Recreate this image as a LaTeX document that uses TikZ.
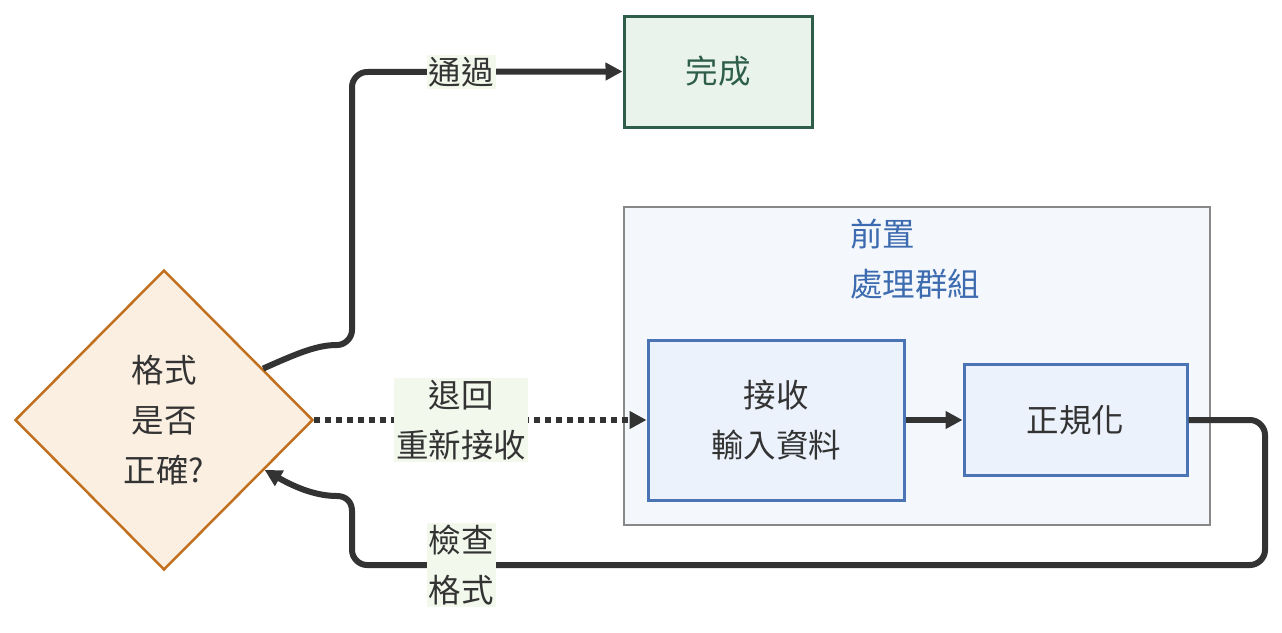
\documentclass[tikz,border=0pt]{standalone}
\usepackage{fontspec}
\setmainfont{Noto Sans CJK TC}
\usetikzlibrary{arrows.meta,calc,shapes.geometric}
\definecolor{inkgray}{HTML}{333333}
\definecolor{decfill}{HTML}{FBEFE2}
\definecolor{decline}{HTML}{C0701E}
\definecolor{donefill}{HTML}{E9F3EC}
\definecolor{doneline}{HTML}{2E5E4A}
\definecolor{grpfill}{HTML}{F4F7FC}
\definecolor{grpline}{HTML}{888888}
\definecolor{grptext}{HTML}{3D6BB0}
\definecolor{stepfill}{HTML}{EBF2FB}
\definecolor{stepline}{HTML}{4A74B4}
\definecolor{lblfill}{HTML}{F2F8EC}
\tikzset{
  flowbox/.style={draw=stepline, fill=stepfill, line width=3pt, text=inkgray, align=center, inner sep=0pt},
  edge/.style={draw=inkgray, line width=6pt, -{Triangle[length=17pt,width=17pt]}},
  edgelbl/.style={fill=lblfill, text=inkgray, align=center, inner sep=2pt}
}
\begin{document}
\begin{tikzpicture}[x=1pt, y=-1pt, font=\fontsize{32.5}{50}\selectfont]
		%%%%% frame %%%%%
		\useasboundingbox (0,0) rectangle (1282,632);

		% group box
		\node[draw=grpline, fill=grpfill, line width=2.5pt, minimum width=586pt, minimum height=318pt, inner sep=0pt] (grp) at (917,366) {};
		\node[text=grptext, align=left, anchor=west, inner sep=0pt] (grplbl) at (850,259) {前置\\處理群組};

		% nodes
		\node[draw=decline, fill=decfill, line width=2.5pt, diamond, minimum width=298pt, minimum height=300pt, inner sep=0pt, text=inkgray, align=center] (check) at (164,420) {格式\\是否\\正確?};
		\node[draw=doneline, fill=donefill, line width=3pt, minimum width=188pt, minimum height=111pt, text=doneline, inner sep=0pt] (done) at (718,71.5) {完成};
		\node[flowbox, minimum width=256pt, minimum height=160pt] (recv) at (776,420) {接收\\輸入資料};
		\node[flowbox, minimum width=223pt, minimum height=111pt] (norm) at (1075.5,420) {正規化};

		% edges
		\coordinate (passout) at ($(check.north)!0.66!(check.east)$);
		\coordinate (backin) at ($(check.east)!0.33!(check.south)$);
		\draw[edge] (passout) .. controls (300,352) and (318,345) .. (337,345)
		  .. controls (345,345) and (352,338) .. (352,330) -- (352,87)
		  .. controls (352,79) and (359,72) .. (367,72) -- (done.west);
		\node[edgelbl] (passlbl) at (461,72) {通過};

		\draw[edge, dash pattern=on 6pt off 5pt] (check.east) -- (recv.west);
		\node[edgelbl] (retlbl) at (461,420) {退回\\重新接收};

		\draw[edge] (recv.east) -- (norm.west);

		\draw[edge] (norm.east) -- (1250,420) .. controls (1258,420) and (1265,427) .. (1265,435)
		  -- (1265,550) .. controls (1265,558) and (1258,565) .. (1250,565)
		  -- (367,565) .. controls (359,565) and (352,558) .. (352,550)
		  -- (352,511) .. controls (352,502) and (346,496) .. (337,496)
		  .. controls (318,496) and (298,489) .. (backin);
		\node[edgelbl] (chklbl) at (461,565) {檢查\\格式};
	\end{tikzpicture}
\end{document}
